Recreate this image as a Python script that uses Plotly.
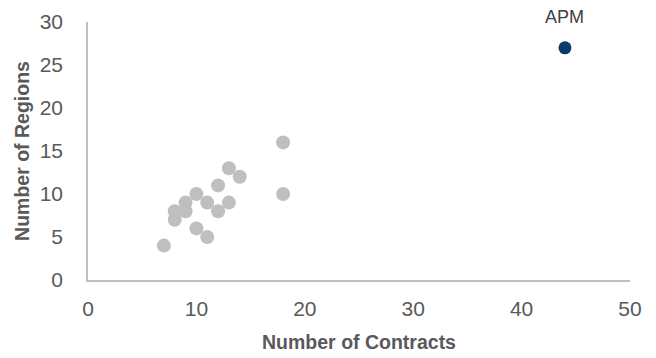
import plotly.graph_objects as go

contracts = [7, 8, 8, 9, 9, 10, 10, 11, 11, 12, 12, 13, 13, 14, 18, 18]
regions = [4, 8, 7, 9, 8, 10, 6, 9, 5, 11, 8, 13, 9, 12, 16, 10]
apm_contracts = [44]
apm_regions = [27]
apm_label = ["APM"]

FONT = "Liberation Sans, Arial, sans-serif"

fig = go.Figure()
fig.add_trace(go.Scatter(x=contracts, y=regions, mode="markers",
                         marker=dict(size=14, color="#BFBFBF"), showlegend=False))
fig.add_trace(go.Scatter(x=apm_contracts, y=apm_regions, mode="markers", cliponaxis=False,
                         marker=dict(size=13, color="#0A3A6E"), showlegend=False))
for xv, yv, lab in zip(apm_contracts, apm_regions, apm_label):
    fig.add_annotation(x=xv, y=yv, text=lab, showarrow=False, yanchor="middle", yshift=31,
                       font=dict(size=18, color="#404040", family=FONT))

fig.update_layout(
    width=656, height=358,
    margin=dict(l=88, r=26, t=22, b=78, autoexpand=False),
    paper_bgcolor="white", plot_bgcolor="white",
    font=dict(family=FONT, color="#595959", size=17),
    xaxis=dict(range=[0, 50], tickvals=[0, 10, 20, 30, 40, 50], showgrid=False, zeroline=False,
               showline=True, linecolor="#BFBFBF", linewidth=1.5, ticks="", automargin=False,
               ticklabelstandoff=9, tickfont=dict(size=21),
               title=dict(text="<b>Number of Contracts</b>", font=dict(size=19.5), standoff=16)),
    yaxis=dict(range=[0, 30], tickvals=[0, 5, 10, 15, 20, 25, 30], showgrid=False, zeroline=False,
               showline=True, linecolor="#BFBFBF", linewidth=1.5, ticks="", automargin=False,
               ticklabelstandoff=19, tickfont=dict(size=21),
               title=dict(text="<b>Number of Regions</b>", font=dict(size=19.5), standoff=5)),
)

fig.write_html("out.html")
